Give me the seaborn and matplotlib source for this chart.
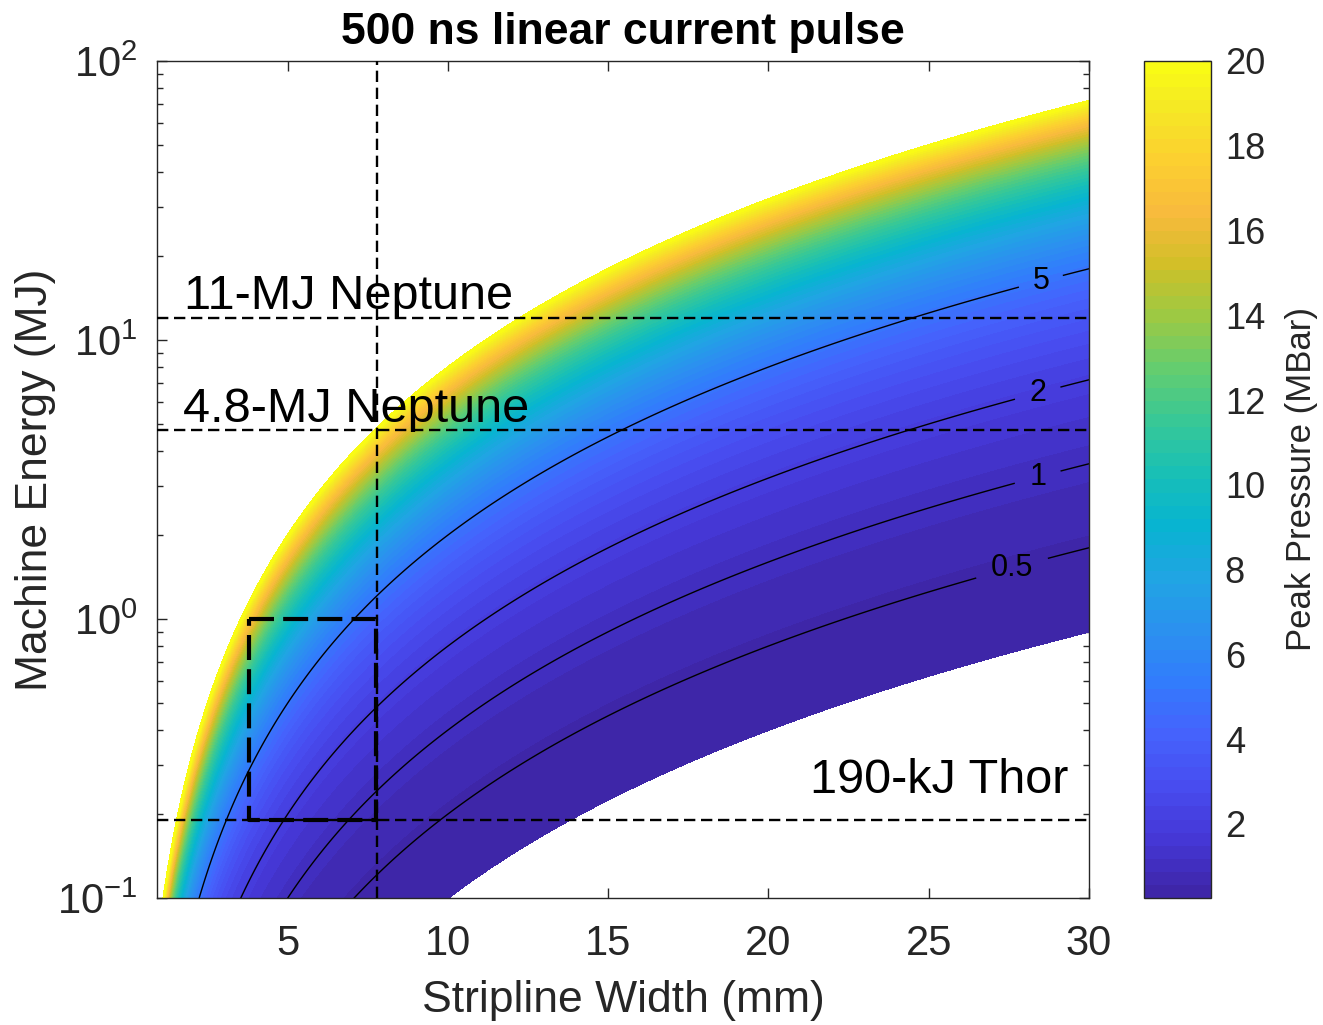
import numpy as np
import matplotlib
matplotlib.use("Agg")
import matplotlib.pyplot as plt
from matplotlib.colors import LinearSegmentedColormap, ListedColormap, Normalize
from matplotlib.ticker import LogLocator, NullFormatter, FixedLocator
import pandas as pd
import seaborn as sns

# ---- data -------------------------------------------------------------
# Peak pressure on the stripline scales as energy / width^2
pressure_coeff = 250.0            # MBar * mm^2 / MJ
pressure_limits = [0.25, 20.0]    # filled range (MBar)
contour_levels = [0.5, 1, 2, 5]   # labelled iso-pressure lines (MBar)
contour_label_width = [27.6, 28.4, 28.4, 28.5]   # mm, where labels sit

machine_names = ["11-MJ Neptune", "4.8-MJ Neptune", "190-kJ Thor"]
machine_energy = [12.0, 4.75, 0.19]   # MJ
width_marker = 7.8                    # mm
box_width = [3.8, 7.75]               # mm
box_energy = [0.19, 1.0]              # MJ

x_ticks = [5, 10, 15, 20, 25, 30]
cbar_ticks = [2, 4, 6, 8, 10, 12, 14, 16, 18, 20]

# parula (64-colour) anchor points
parula_anchors = [
    (0.2422, 0.1504, 0.6603), (0.2706, 0.2147, 0.8364), (0.2813, 0.3006, 0.9414),
    (0.2699, 0.3892, 0.9906), (0.1963, 0.4847, 0.9892), (0.1687, 0.5703, 0.9359),
    (0.1248, 0.6459, 0.8883), (0.0297, 0.7082, 0.8163), (0.0964, 0.7500, 0.7120),
    (0.2161, 0.7843, 0.5923), (0.3909, 0.8029, 0.4354), (0.6174, 0.7876, 0.2612),
    (0.8203, 0.7498, 0.1535), (0.9728, 0.7298, 0.2394), (0.9892, 0.8136, 0.1885),
    (0.9597, 0.9135, 0.1423), (0.9769, 0.9839, 0.0805),
]
parula_pos = [i * 4 / 63 for i in range(16)] + [1.0]

# ---- style ------------------------------------------------------------
sns.set_theme(style="white")
plt.rcParams["font.family"] = ["Liberation Sans", "DejaVu Sans"]
plt.rcParams["mathtext.fontset"] = "custom"
plt.rcParams["mathtext.rm"] = "Liberation Sans"
plt.rcParams["axes.unicode_minus"] = False
dark = "#262626"

smooth = LinearSegmentedColormap.from_list("parula", list(zip(parula_pos, parula_anchors)))
parula = ListedColormap(smooth(np.linspace(0, 1, 64)))
norm = Normalize(*pressure_limits)

# ---- field ------------------------------------------------------------
w = np.linspace(0.9, 30.5, 700)
e = np.logspace(-1.02, 2.02, 700)
W, E = np.meshgrid(w, e)
P = pressure_coeff * E / W**2

fig = plt.figure(figsize=(13.23, 10.25), dpi=100)
ax = fig.add_axes([0.1189, 0.1239, 0.7042, 0.8166])
cax = fig.add_axes([0.8647, 0.1239, 0.0506, 0.8166])

fill_levels = np.linspace(pressure_limits[0], pressure_limits[1], 65)
cf = ax.contourf(W, E, P, levels=fill_levels, cmap=parula, norm=norm)
cf.set_edgecolor("face")
cf.set_linewidth(0.6)

cs = ax.contour(W, E, P, levels=contour_levels, colors="black", linewidths=1.0)
label_pos = [(x, lv * x**2 / pressure_coeff)
             for lv, x in zip(contour_levels, contour_label_width)]
labels = ax.clabel(cs, fmt={0.5: "0.5", 1: "1", 2: "2", 5: "5"},
                   manual=label_pos, fontsize=22, inline=True,
                   inline_spacing=14, colors="black")
for t in labels:
    t.set_rotation(0)

# reference machines
for en in machine_energy:
    ax.axhline(en, color="black", lw=1.7, ls=(0, (4.8, 2.4)), zorder=4)
ax.axvline(width_marker, color="black", lw=1.7, ls=(0, (4.8, 2.4)), zorder=4)

box = pd.DataFrame({
    "w": [box_width[0], box_width[1], box_width[1], box_width[0], box_width[0]],
    "e": [box_energy[1], box_energy[1], box_energy[0], box_energy[0], box_energy[1]],
})
sns.lineplot(data=box, x="w", y="e", sort=False, estimator=None, ax=ax,
             color="black", lw=3.0, ls=(0, (6.0, 2.2)), zorder=5)

ax.text(1.75, 12.9, machine_names[0], fontsize=35, color="black", va="baseline")
ax.text(1.72, 5.1, machine_names[1], fontsize=35, color="black", va="baseline")
ax.text(29.35, 0.238, machine_names[2], fontsize=35, color="black",
        va="baseline", ha="right")

# ---- axes -------------------------------------------------------------
ax.set_yscale("log")
ax.set_xlim(0.93, 30)
ax.set_ylim(0.1, 100)
ax.xaxis.set_major_locator(FixedLocator(x_ticks))
ax.yaxis.set_major_locator(LogLocator(base=10, numticks=10))
ax.yaxis.set_minor_locator(LogLocator(base=10, subs=np.arange(2, 10), numticks=10))
ax.yaxis.set_minor_formatter(NullFormatter())
ax.tick_params(which="both", direction="in", top=True, right=True,
               left=True, bottom=True, color=dark, labelcolor=dark, width=1.0)
ax.tick_params(which="major", length=7.5, labelsize=30)
ax.tick_params(axis="x", which="major", pad=19)
ax.tick_params(axis="y", which="major", pad=14)
ax.tick_params(which="minor", length=4)
ax.tick_params(axis="x", which="minor", top=False, bottom=False)
for s in ax.spines.values():
    s.set_color(dark)
    s.set_linewidth(1.0)
    s.set_visible(True)

ax.set_xlabel("Stripline Width (mm)", fontsize=32, color=dark, labelpad=11)
ax.set_ylabel("Machine Energy (MJ)", fontsize=32, color=dark, labelpad=1)
ax.set_title("500 ns linear current pulse", fontsize=32, fontweight="bold",
             color="black", pad=12)

cb = fig.colorbar(cf, cax=cax, ticks=cbar_ticks)
cb.outline.set_edgecolor(dark)
cb.outline.set_linewidth(1.0)
cax.tick_params(direction="in", length=6.5, width=1.0, color=dark,
                labelcolor=dark, labelsize=26, pad=10, right=True)
cb.set_label("Peak Pressure (MBar)", fontsize=25, color=dark, labelpad=14)

fig.savefig("out.png", dpi=100)
